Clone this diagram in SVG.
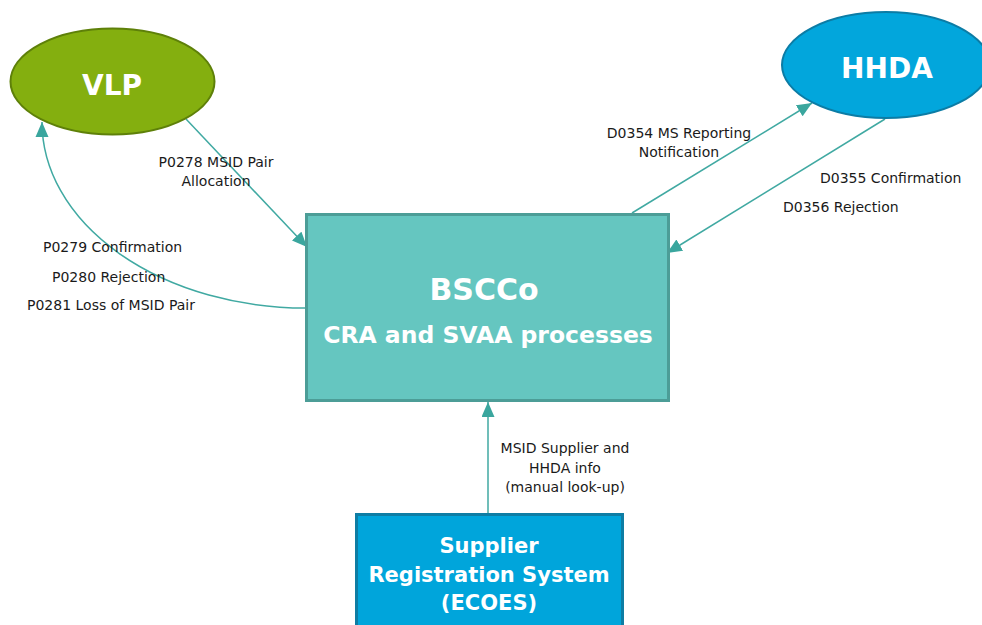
<svg xmlns="http://www.w3.org/2000/svg" width="982" height="625" viewBox="0 0 982 625">
<style>
.lbl{font-family:"DejaVu Sans","Liberation Sans",sans-serif;font-size:14px;fill:#1a1a1a}
.big{font-family:"DejaVu Sans","Liberation Sans",sans-serif;font-weight:bold;fill:#ffffff;text-anchor:middle}
.conn{fill:none;stroke:#40a9a2;stroke-width:1.5}
</style>
<defs>
<marker id="ah" markerUnits="userSpaceOnUse" markerWidth="16" markerHeight="14" refX="15" refY="6.5" orient="auto">
<path d="M0,0 L15,6.5 L0,13 Z" fill="#3aa69e"/>
</marker>
</defs>
<rect width="982" height="625" fill="#ffffff"/>
<g id="connectors">
<path class="conn" d="M186,119 L307,247" marker-end="url(#ah)"/>
<path class="conn" d="M306,308 A264,186 0 0 1 42,122" marker-end="url(#ah)"/>
<path class="conn" d="M632,213 L812,103" marker-end="url(#ah)"/>
<path class="conn" d="M885,119 L667,253" marker-end="url(#ah)"/>
<path class="conn" d="M488,514 L488,402" marker-end="url(#ah)"/>
</g>
<g id="labels">
<text class="lbl" x="216" y="167" text-anchor="middle">P0278 MSID Pair</text>
<text class="lbl" x="216" y="186" text-anchor="middle">Allocation</text>
<text class="lbl" x="43" y="252">P0279 Confirmation</text>
<text class="lbl" x="52" y="282">P0280 Rejection</text>
<text class="lbl" x="27" y="310">P0281 Loss of MSID Pair</text>
<text class="lbl" x="679" y="138" text-anchor="middle">D0354 MS Reporting</text>
<text class="lbl" x="679" y="157" text-anchor="middle">Notification</text>
<text class="lbl" x="820" y="183">D0355 Confirmation</text>
<text class="lbl" x="783" y="212">D0356 Rejection</text>
<text class="lbl" x="565" y="453" text-anchor="middle">MSID Supplier and</text>
<text class="lbl" x="565" y="473" text-anchor="middle">HHDA info</text>
<text class="lbl" x="565" y="492" text-anchor="middle">(manual look-up)</text>
</g>
<g id="vlp">
<ellipse cx="112.5" cy="81.5" rx="102" ry="53" fill="#84af0f" stroke="#5e8009" stroke-width="2"/>
<text class="big" x="112" y="95" font-size="28">VLP</text>
</g>
<g id="hhda">
<ellipse cx="886" cy="65" rx="104" ry="53" fill="#02a6dc" stroke="#0c7ca5" stroke-width="2"/>
<text class="big" x="887" y="78" font-size="28">HHDA</text>
</g>
<g id="bscco">
<rect x="306.5" y="214.5" width="362" height="186" fill="#65c6c0" stroke="#4c9d97" stroke-width="3"/>
<text class="big" x="484" y="300" font-size="30">BSCCo</text>
<text class="big" x="488" y="343" font-size="23.5">CRA and SVAA processes</text>
</g>
<g id="ecoes">
<rect x="356.5" y="514.5" width="266" height="120" fill="#00a5db" stroke="#0e7da4" stroke-width="3"/>
<text class="big" x="489" y="553" font-size="21">Supplier</text>
<text class="big" x="489" y="582" font-size="21">Registration System</text>
<text class="big" x="489" y="610" font-size="21">(ECOES)</text>
</g>
</svg>
